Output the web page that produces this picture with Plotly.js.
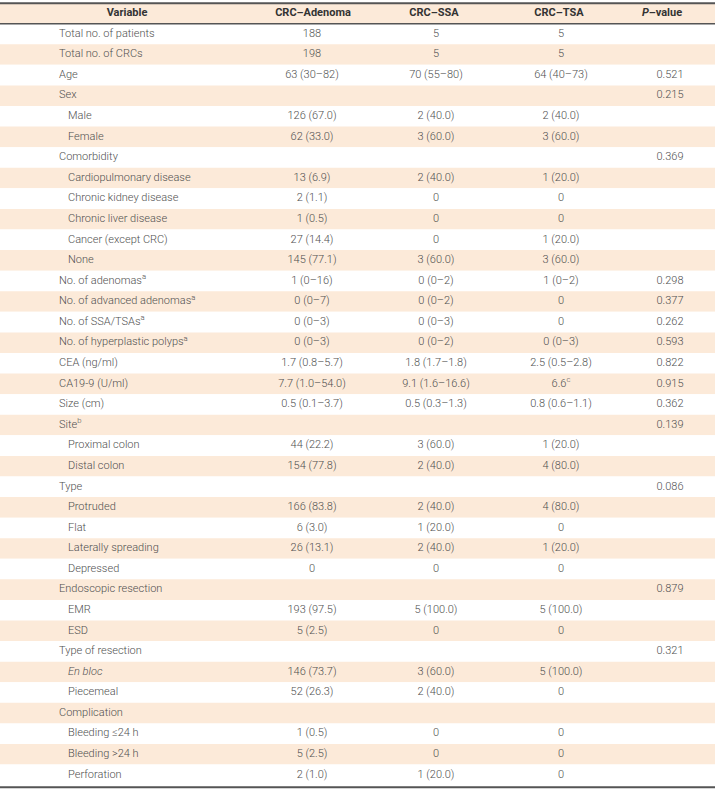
<!DOCTYPE html>
<html>
<head>
<meta charset="utf-8">
<script src="https://cdn.plot.ly/plotly-3.0.1.min.js"></script>
<style>
html,body{margin:0;padding:0;background:#fff;}
#chart{width:715px;height:792px;}
</style>
</head>
<body>
<div id="chart"></div>
<script>
// ---- data ----
const headers = ["Variable", "CRC–Adenoma", "CRC–SSA", "CRC–TSA", "<i>P</i>–value"];

const variables = [
  "Total no. of patients", "Total no. of CRCs", "Age", "Sex", "Male", "Female",
  "Comorbidity", "Cardiopulmonary disease", "Chronic kidney disease", "Chronic liver disease",
  "Cancer (except CRC)", "None",
  "No. of adenomas<sup>a</sup>", "No. of advanced adenomas<sup>a</sup>", "No. of SSA/TSAs<sup>a</sup>",
  "No. of hyperplastic polyps<sup>a</sup>", "CEA (ng/ml)", "CA19-9 (U/ml)", "Size (cm)",
  "Site<sup>b</sup>", "Proximal colon", "Distal colon",
  "Type", "Protruded", "Flat", "Laterally spreading", "Depressed",
  "Endoscopic resection", "EMR", "ESD",
  "Type of resection", "<i>En bloc</i>", "Piecemeal",
  "Complication", "Bleeding ≤24 h", "Bleeding >24 h", "Perforation"
];

const subRow = [
  0,0,0,0,1,1,
  0,1,1,1,
  1,1,
  0,0,0,
  0,0,0,0,
  0,1,1,
  0,1,1,1,1,
  0,1,1,
  0,1,1,
  0,1,1,1
];

const crcAdenoma = [
  "188", "198", "63 (30–82)", "", "126 (67.0)", "62 (33.0)",
  "", "13 (6.9)", "2 (1.1)", "1 (0.5)", "27 (14.4)", "145 (77.1)",
  "1 (0–16)", "0 (0–7)", "0 (0–3)", "0 (0–3)", "1.7 (0.8–5.7)", "7.7 (1.0–54.0)", "0.5 (0.1–3.7)",
  "", "44 (22.2)", "154 (77.8)",
  "", "166 (83.8)", "6 (3.0)", "26 (13.1)", "0",
  "", "193 (97.5)", "5 (2.5)",
  "", "146 (73.7)", "52 (26.3)",
  "", "1 (0.5)", "5 (2.5)", "2 (1.0)"
];

const crcSSA = [
  "5", "5", "70 (55–80)", "", "2 (40.0)", "3 (60.0)",
  "", "2 (40.0)", "0", "0", "0", "3 (60.0)",
  "0 (0–2)", "0 (0–2)", "0 (0–3)", "0 (0–2)", "1.8 (1.7–1.8)", "9.1 (1.6–16.6)", "0.5 (0.3–1.3)",
  "", "3 (60.0)", "2 (40.0)",
  "", "2 (40.0)", "1 (20.0)", "2 (40.0)", "0",
  "", "5 (100.0)", "0",
  "", "3 (60.0)", "2 (40.0)",
  "", "0", "0", "1 (20.0)"
];

const crcTSA = [
  "5", "5", "64 (40–73)", "", "2 (40.0)", "3 (60.0)",
  "", "1 (20.0)", "0", "0", "1 (20.0)", "3 (60.0)",
  "1 (0–2)", "0", "0", "0 (0–3)", "2.5 (0.5–2.8)", "6.6<sup>c</sup>", "0.8 (0.6–1.1)",
  "", "1 (20.0)", "4 (80.0)",
  "", "4 (80.0)", "0", "1 (20.0)", "0",
  "", "5 (100.0)", "0",
  "", "5 (100.0)", "0",
  "", "0", "0", "0"
];

const pValue = [
  "", "", "0.521", "0.215", "", "",
  "0.369", "", "", "", "", "",
  "0.298", "0.377", "0.262", "0.593", "0.822", "0.915", "0.362",
  "0.139", "", "",
  "0.086", "", "", "", "",
  "0.879", "", "",
  "0.321", "", "",
  "", "", "", ""
];

// ---- layout / styling ----
const W = 715, H = 792;
const PEACH = "#fcead9";
const FONT = "Roboto, 'Open Sans', sans-serif";
const BODY = { family: FONT, size: 11, color: "#4f4f4f", weight: 300 };
const HEAD = { family: FONT, size: 11, color: "#333333" };
const rowPitch = 20.58;      // px per row
const firstRowPx = 34;       // pixel centre of first body row
const nRows = variables.length;
const rows = variables.map((v, i) => i);
const headerRow = -1;

// column anchor positions (px on a 0..W axis)
const xMain = 59, xSub = 68;
const colCenters = [312, 436, 561, 670];
const headerCenters = [127, 313, 434, 559, 662];

const yLo = -firstRowPx / rowPitch;
const yHi = (H - firstRowPx) / rowPitch;

// background bands via a horizontal bar trace
const bandY = [headerRow].concat(rows);
const bandColor = [PEACH].concat(rows.map(i => (i % 2 === 1 ? PEACH : "#ffffff")));
const bands = {
  type: "bar", orientation: "h",
  y: bandY, x: bandY.map(() => W), base: 0, width: 1,
  marker: { color: bandColor, line: { width: 0 } },
  hoverinfo: "skip", showlegend: false
};

function textTrace(xs, ys, texts, font, pos) {
  const keep = texts.map((t, i) => i).filter(i => texts[i] !== "");
  return {
    type: "scatter", mode: "text",
    x: keep.map(i => xs[i]), y: keep.map(i => ys[i]), text: keep.map(i => texts[i]),
    textposition: pos, textfont: font,
    hoverinfo: "skip", showlegend: false, cliponaxis: false
  };
}

const traces = [bands];
// header
traces.push(textTrace(headerCenters, headers.map(() => headerRow),
  headers.map(h => "<b>" + h + "</b>"), HEAD, "middle center"));
// variable column
traces.push(textTrace(rows.map(i => (subRow[i] ? xSub : xMain)), rows, variables, BODY, "middle right"));
// value columns
[crcAdenoma, crcSSA, crcTSA, pValue].forEach((col, k) => {
  traces.push(textTrace(rows.map(() => colCenters[k]), rows, col, BODY, "middle center"));
});

const lineCol = "#555555";
const shapes = [
  { type: "line", xref: "x", yref: "y", x0: 0, x1: W, y0: headerRow - 0.5, y1: headerRow - 0.5, line: { color: lineCol, width: 2 } },
  { type: "line", xref: "x", yref: "y", x0: 0, x1: W, y0: headerRow + 0.5, y1: headerRow + 0.5, line: { color: lineCol, width: 1.5 } },
  { type: "line", xref: "x", yref: "y", x0: 0, x1: W, y0: nRows - 0.5 + 0.1, y1: nRows - 0.5 + 0.1, line: { color: lineCol, width: 2.2 } }
];

Plotly.newPlot("chart", traces, {
  width: W, height: H,
  margin: { l: 0, r: 0, t: 0, b: 0, pad: 0 },
  paper_bgcolor: "#ffffff", plot_bgcolor: "#ffffff",
  showlegend: false,
  xaxis: { range: [0, W], visible: false, fixedrange: true, showgrid: false, zeroline: false },
  yaxis: { range: [yHi, yLo], visible: false, fixedrange: true, showgrid: false, zeroline: false },
  shapes: shapes
}, { displayModeBar: false, staticPlot: true });
</script>
</body>
</html>
